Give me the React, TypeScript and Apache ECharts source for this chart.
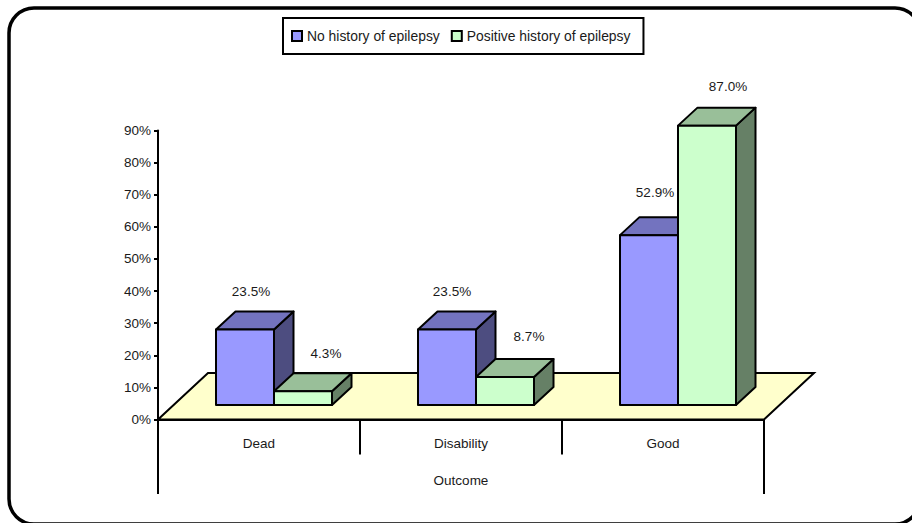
import React, { useEffect, useRef } from "react";
import * as echarts from "echarts";

const categories = ["Dead", "Disability", "Good"];
const noHistoryName = "No history of epilepsy";
const positiveHistoryName = "Positive history of epilepsy";
const noHistoryValues = [23.5, 23.5, 52.9];
const positiveHistoryValues = [4.3, 8.7, 87.0];
const axisTitle = "Outcome";

const FONT = '"Liberation Sans", Arial, sans-serif';
const FONT_SIZE = 13.5;
const TEXT = "#1a1a1a";

// Oblique projection used for the extruded columns and the floor.
const BAR_W = 58;
const DEPTH_X = 19.5;
const DEPTH_Y = 18;
const BASE_LIFT = 14.5;
const BASE_SHIFT = 15;
const FLOOR_X = 50;
const FLOOR_Y = 46.5;

type Face = { front: string; top: string; side: string };
const blueFaces: Face = { front: "#9999FF", top: "#7373BF", side: "#4D4D80" };
const greenFaces: Face = { front: "#CCFFCC", top: "#99BF99", side: "#668066" };

function column(face: Face, leftOffset: number, labelDx: number[], labelDy: number[]) {
  return (params: any, api: any) => {
    const idx = api.value(0);
    const v = api.value(1);
    const [cx, base] = api.coord([idx, 0]);
    const [, tip] = api.coord([idx, v]);
    const x0 = cx + BASE_SHIFT + leftOffset;
    const x1 = x0 + BAR_W;
    const yb = base - BASE_LIFT;
    const yt = tip - BASE_LIFT;
    const edge = { stroke: "#000", lineWidth: 2, lineJoin: "round" };
    return {
      type: "group",
      children: [
        {
          type: "polygon",
          shape: { points: [[x1, yb], [x1 + DEPTH_X, yb - DEPTH_Y], [x1 + DEPTH_X, yt - DEPTH_Y], [x1, yt]] },
          style: { fill: face.side, ...edge },
        },
        {
          type: "polygon",
          shape: { points: [[x0, yt], [x0 + DEPTH_X, yt - DEPTH_Y], [x1 + DEPTH_X, yt - DEPTH_Y], [x1, yt]] },
          style: { fill: face.top, ...edge },
        },
        {
          type: "rect",
          shape: { x: x0, y: yt, width: BAR_W, height: yb - yt },
          style: { fill: face.front, ...edge },
        },
        {
          type: "text",
          style: {
            x: (x0 + x1) / 2 + labelDx[idx],
            y: yt - DEPTH_Y - labelDy[idx],
            text: v.toFixed(1) + "%",
            font: `${FONT_SIZE}px ${FONT}`,
            fill: TEXT,
            textAlign: "center",
            textVerticalAlign: "middle",
          },
        },
      ],
    };
  };
}

function floor(params: any, api: any) {
  const { x, y, width, height } = params.coordSys;
  const b = y + height;
  return {
    type: "polygon",
    shape: { points: [[x, b], [x + FLOOR_X, b - FLOOR_Y], [x + width + FLOOR_X, b - FLOOR_Y], [x + width, b]] },
    style: { fill: "#FFFFCC", stroke: "#000", lineWidth: 2 },
  };
}

export default function App() {
  const ref = useRef<HTMLDivElement>(null);
  useEffect(() => {
    document.body.style.margin = "0";
    const chart = echarts.init(ref.current!, undefined, { renderer: "svg" });
    chart.setOption({
      animation: false,
      backgroundColor: "#fff",
      textStyle: { fontFamily: FONT },
      grid: { left: 158, top: 130.5, width: 606, height: 289 },
      legend: {
        left: 283,
        top: 18,
        padding: [11, 13, 11, 8],
        itemGap: 11,
        itemWidth: 10,
        itemHeight: 10,
        backgroundColor: "#fff",
        borderColor: "#000",
        borderWidth: 2,
        textStyle: { fontFamily: FONT, fontSize: 13.9, color: TEXT },
        data: [
          { name: noHistoryName, icon: "rect", itemStyle: { color: blueFaces.front, borderColor: "#000", borderWidth: 2 } },
          { name: positiveHistoryName, icon: "rect", itemStyle: { color: greenFaces.front, borderColor: "#000", borderWidth: 2 } },
        ],
      },
      xAxis: {
        type: "category",
        data: categories,
        z: 3,
        name: axisTitle,
        nameLocation: "middle",
        nameGap: 54,
        nameTextStyle: { fontFamily: FONT, fontSize: FONT_SIZE, color: TEXT },
        axisLine: { lineStyle: { color: "#000", width: 2 } },
        axisTick: { show: true, length: 35, lineStyle: { color: "#000", width: 2 } },
        axisLabel: { margin: 17, fontFamily: FONT, fontSize: FONT_SIZE, color: TEXT },
      },
      yAxis: {
        type: "value",
        min: 0,
        max: 90,
        interval: 10,
        z: 3,
        splitLine: { show: false },
        axisLine: { show: true, lineStyle: { color: "#000", width: 2 } },
        axisTick: { show: true, length: 4, lineStyle: { color: "#000", width: 2 } },
        axisLabel: { margin: 7, formatter: "{value}%", fontFamily: FONT, fontSize: FONT_SIZE, color: TEXT },
      },
      graphic: [
        {
          type: "rect",
          silent: true,
          z: -10,
          shape: { x: 9, y: 8, width: 911, height: 516, r: 25 },
          style: { fill: "none", stroke: "#000", lineWidth: 3.5 },
        },
        // The two outer dividers run on down past the category row to the axis title row.
        { type: "line", shape: { x1: 158, y1: 419, x2: 158, y2: 494 }, style: { stroke: "#000", lineWidth: 2 } },
        { type: "line", shape: { x1: 764, y1: 419, x2: 764, y2: 494 }, style: { stroke: "#000", lineWidth: 2 } },
      ],
      series: [
        { type: "custom", name: "floor", z: 1, clip: false, silent: true, data: [[0, 0]], renderItem: floor },
        {
          type: "custom",
          name: noHistoryName,
          z: 2,
          clip: false,
          itemStyle: { color: blueFaces.front },
          encode: { x: 0, y: 1 },
          data: noHistoryValues.map((v, i) => [i, v]),
          renderItem: column(blueFaces, -BAR_W, [6, 5, 6], [20.5, 20.5, 25]),
        },
        {
          type: "custom",
          name: positiveHistoryName,
          z: 2,
          clip: false,
          itemStyle: { color: greenFaces.front },
          encode: { x: 0, y: 1 },
          data: positiveHistoryValues.map((v, i) => [i, v]),
          renderItem: column(greenFaces, 0, [23, 24, 21], [19.5, 23, 21]),
        },
      ],
    });
    return () => chart.dispose();
  }, []);
  return <div ref={ref} style={{ width: 912, height: 523, position: "fixed", left: 0, top: 0 }} />;
}
